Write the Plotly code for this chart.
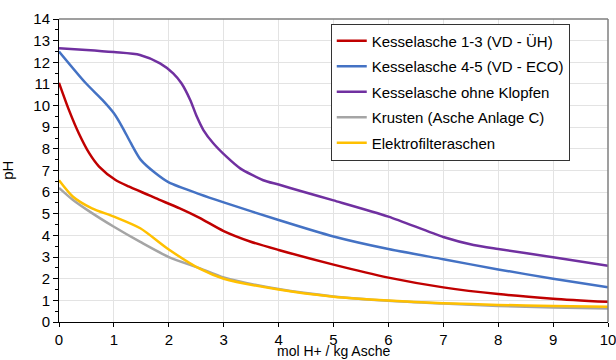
import plotly.graph_objects as go

# Data
red_x = [0, 0.18, 0.36, 0.55, 0.73, 1.03, 1.28, 1.76, 2.2, 2.57, 3.0, 3.48, 4.0, 5.0, 6.0, 7.0, 8.0, 9.0, 10.0]
red_y = [11.05, 9.8, 8.72, 7.8, 7.18, 6.56, 6.25, 5.72, 5.25, 4.8, 4.2, 3.72, 3.33, 2.65, 2.05, 1.6, 1.29, 1.08, 0.93]

blue_x = [0, 0.49, 0.79, 1.0, 1.15, 1.31, 1.49, 1.76, 2.0, 2.57, 3.0, 4.0, 5.0, 6.0, 7.0, 8.0, 9.0, 10.0]
blue_y = [12.5, 11.03, 10.26, 9.64, 9.02, 8.26, 7.49, 6.87, 6.45, 5.9, 5.53, 4.71, 3.95, 3.37, 2.9, 2.43, 2.0, 1.6]

purple_x = [0, 0.5, 1.0, 1.475, 1.84, 2.08, 2.23, 2.39, 2.51, 2.63, 2.81, 3.05, 3.3, 3.72, 4.0, 4.4, 5.0, 6.0, 7.0, 7.55, 8.0, 9.0, 10.0]
purple_y = [12.65, 12.57, 12.47, 12.34, 11.95, 11.49, 11.03, 10.26, 9.49, 8.87, 8.26, 7.64, 7.1, 6.55, 6.35, 6.05, 5.62, 4.87, 3.93, 3.56, 3.37, 2.99, 2.6]

gray_x = [0, 0.25, 0.56, 1.0, 1.48, 2.0, 2.57, 3.0, 4.0, 5.0, 6.0, 7.0, 8.0, 9.0, 10.0]
gray_y = [6.2, 5.65, 5.1, 4.4, 3.7, 3.0, 2.48, 2.06, 1.52, 1.18, 0.98, 0.85, 0.74, 0.67, 0.62]

yellow_x = [0, 0.25, 0.6, 1.0, 1.48, 2.0, 2.57, 3.0, 4.0, 5.0, 6.0, 7.0, 8.0, 9.0, 10.0]
yellow_y = [6.55, 5.8, 5.25, 4.87, 4.33, 3.35, 2.45, 2.0, 1.5, 1.17, 0.99, 0.87, 0.79, 0.74, 0.71]

names = ["Kesselasche 1-3 (VD - ÜH)", "Kesselasche 4-5 (VD - ECO)", "Kesselasche ohne Klopfen",
         "Krusten (Asche Anlage C)", "Elektrofilteraschen"]
colors = ["#C00000", "#4472C4", "#7030A0", "#A5A5A5", "#FFC000"]

series = [(red_x, red_y), (blue_x, blue_y), (purple_x, purple_y), (gray_x, gray_y), (yellow_x, yellow_y)]

FONT = "Liberation Sans, Arial, sans-serif"

fig = go.Figure()
for i, ((xs, ys), n, c) in enumerate(zip(series, names, colors)):
    fig.add_trace(go.Scatter(x=xs, y=ys, name=n, mode="lines", legendgroup=f"g{i}",
                             line=dict(color=c, width=2.5, shape="spline", smoothing=0.7)))

fig.update_layout(
    width=616, height=360,
    margin=dict(l=59, r=8, t=19, b=38),
    paper_bgcolor="white", plot_bgcolor="white",
    font=dict(family=FONT, size=15, color="black"),
    showlegend=True,
    legend=dict(x=0.495, y=0.985, xanchor="left", yanchor="top",
                bgcolor="white", bordercolor="#333333", borderwidth=1,
                font=dict(size=15, family=FONT), itemwidth=30,
                traceorder="grouped", tracegroupgap=3),
)
fig.update_xaxes(range=[0, 10], dtick=1, showgrid=True, gridcolor="#E3E3E3", gridwidth=1,
                 showline=True, linecolor="black", linewidth=1, mirror=False,
                 ticks="outside", ticklen=4, tickcolor="black", automargin=False,
                 ticklabeloverflow="allow",
                 zeroline=False, tickfont=dict(size=15))
fig.update_yaxes(range=[0, 14], dtick=1, showgrid=True, gridcolor="#E3E3E3", gridwidth=1,
                 showline=True, linecolor="black", linewidth=1, mirror=False,
                 ticks="outside", ticklen=5, tickcolor="black", automargin=False,
                 minor=dict(dtick=0.5, ticks="outside", ticklen=3, tickcolor="black", showgrid=False),
                 zeroline=False, tickfont=dict(size=15))
# axis titles
fig.add_annotation(text="mol H+ / kg Asche", xref="paper", yref="paper", x=0.5, y=-0.1254,
                   xanchor="center", yanchor="bottom", showarrow=False, borderpad=0,
                   font=dict(size=14, family=FONT))
fig.add_annotation(text="pH", xref="paper", yref="paper", x=-0.075, y=0.5, textangle=-90,
                   xanchor="right", yanchor="middle", showarrow=False, font=dict(size=15, family=FONT))
# top and right frame lines
fig.add_shape(type="line", xref="paper", yref="paper", x0=0, x1=1, y0=1, y1=1,
              line=dict(color="#7F7F7F", width=1.5))
fig.add_shape(type="line", xref="paper", yref="paper", x0=1, x1=1, y0=0, y1=1,
              line=dict(color="#7F7F7F", width=1.5))

fig.write_html("out.html", config={"displayModeBar": False},
               post_script="document.body.style.margin='0';")
